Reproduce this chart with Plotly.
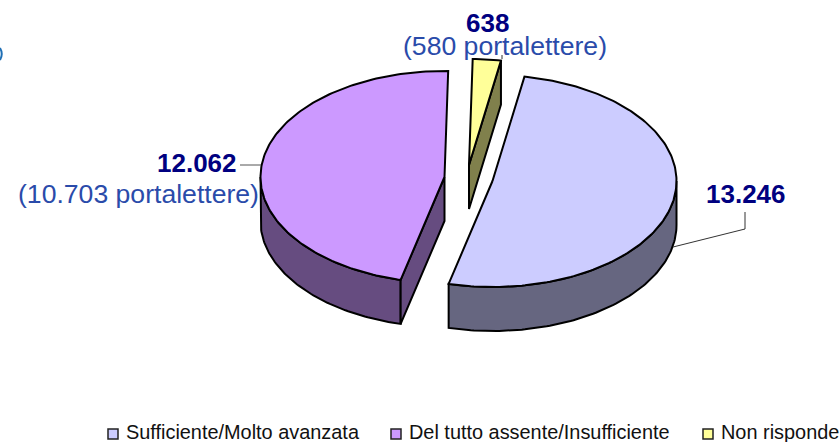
import numpy as np
import plotly.graph_objects as go

categories = ["Sufficiente/Molto avanzata", "Del tutto assente/Insufficiente", "Non risponde"]
values = [13246, 12062, 638]
value_labels = ["13.246", "12.062", "638"]
sub_labels = ["", "(10.703 portalettere)", "(580 portalettere)"]
top_colors = ["#CCCCFF", "#CC99FF", "#FFFF99"]
side_colors = ["#666680", "#664C80", "#80804C"]

W, H = 840, 442
A, B, DEPTH = 184, 106, 44
START = 10.0
centers = [(492.5, 181), (444.5, 177), (469, 165)]
NAVY, BLUE = "#000080", "#2A4BAA"
FONT = "Liberation Sans, Arial, sans-serif"

total = sum(values)
spans = [v / total * 360 for v in values]
ranges = []
a0 = START
for s in spans:
    ranges.append((a0, a0 + s))
    a0 += s


def arc(c, t1, t2, dy=0.0):
    t = np.radians(np.linspace(t1, t2, max(int(abs(t2 - t1)) + 2, 3)))
    return c[0] + A * np.sin(t), c[1] - B * np.cos(t) + dy


def poly(fig, xs, ys, color):
    fig.add_trace(go.Scatter(x=np.r_[xs, xs[0]], y=np.r_[ys, ys[0]], mode="lines", fill="toself",
                             fillcolor=color, line=dict(color="black", width=2),
                             hoverinfo="skip", showlegend=False))


def slice3d(fig, i, cut_angle):
    c = centers[i]
    t1, t2 = ranges[i]
    # outer wall: only the front half of the rim is visible
    v1, v2 = max(t1, 90), min(t2, 270)
    if v1 < v2:
        x1, y1 = arc(c, v1, v2)
        x2, y2 = arc(c, v1, v2, DEPTH)
        poly(fig, np.r_[x1, x2[::-1]], np.r_[y1, y2[::-1]], side_colors[i])
    # radial cut face
    if cut_angle is not None:
        xr, yr = arc(c, cut_angle, cut_angle)
        xr, yr = xr[0], yr[0]
        poly(fig, np.array([c[0], xr, xr, c[0]]),
             np.array([c[1], yr, yr + DEPTH, c[1] + DEPTH]), side_colors[i])
    # top face
    xt, yt = arc(c, t1, t2)
    poly(fig, np.r_[c[0], xt], np.r_[c[1], yt], top_colors[i])


fig = go.Figure()
slice3d(fig, 2, ranges[2][1])
slice3d(fig, 1, ranges[1][0])
slice3d(fig, 0, None)

shapes = [
    dict(type="line", x0=240, y0=165, x1=261, y1=165, line=dict(color="#555555", width=1)),
    dict(type="line", x0=673, y0=247, x1=745, y1=229, line=dict(color="#333333", width=1)),
    dict(type="line", x0=745, y0=229, x1=745, y1=212, line=dict(color="#333333", width=1)),
    dict(type="line", x0=502, y0=59, x1=502, y1=55, line=dict(color="#333333", width=1)),
    dict(type="path", path="M 0 48 Q 3.5 54 0 60", xref="x", yref="y",
         line=dict(color="#1F6FB5", width=2)),
]

leg_x = [113, 396, 708]
text_x = [124, 407, 719]
fig.add_trace(go.Scatter(x=leg_x, y=[434] * 3, mode="markers", hoverinfo="skip", showlegend=False,
                         marker=dict(symbol="square", size=10, color=top_colors,
                                     line=dict(color="#222222", width=1.5))))

ann = []


def label(x, y, text, size, color, anchor="center", bold=False):
    ann.append(dict(x=x, y=y, text=f"<b>{text}</b>" if bold else text, showarrow=False, xanchor=anchor,
                    yanchor="middle", font=dict(family=FONT, size=size, color=color)))


label(746, 194, value_labels[0], 26, NAVY, bold=True)
label(239, 163, value_labels[1], 26, NAVY, "right", bold=True)
label(261, 194, sub_labels[1], 26.6, BLUE, "right")
label(487, 23, value_labels[2], 26, NAVY, bold=True)
label(505, 46, sub_labels[2], 26.6, BLUE)
for tx, cat in zip(text_x, categories):
    label(tx, 432, cat, 19.9, "#111111", "left")

fig.update_layout(
    width=W, height=H, margin=dict(l=0, r=0, t=0, b=0), paper_bgcolor="white", plot_bgcolor="white",
    xaxis=dict(range=[0, W], visible=False, fixedrange=True),
    yaxis=dict(range=[H, 0], visible=False, fixedrange=True),
    shapes=shapes, annotations=ann, showlegend=False,
)
fig.write_html("out.html", config={"displayModeBar": False},
               post_script="document.body.style.margin='0';document.documentElement.style.overflow='hidden';")
